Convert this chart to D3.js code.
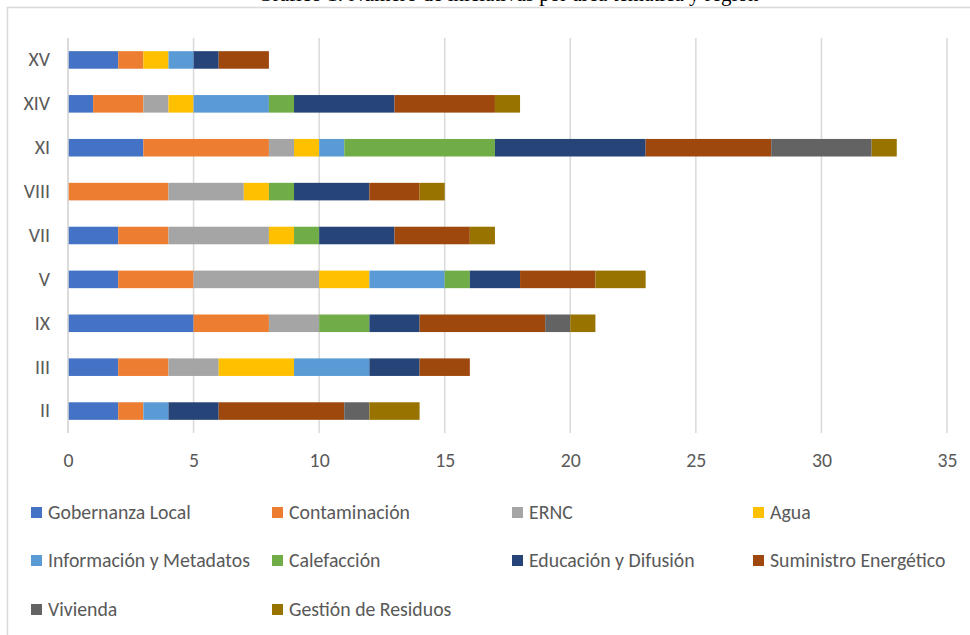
<!DOCTYPE html>
<html>
<head>
<meta charset="utf-8">
<script src="https://cdn.jsdelivr.net/npm/d3@7"></script>
<style>
  html, body { margin: 0; padding: 0; background: #fff; }
  svg { display: block; }
  text { font-family: Carlito, Lato, "Open Sans", sans-serif; }
</style>
</head>
<body>
<svg id="chart" width="970" height="635"></svg>
<script>
// Regions, top to bottom
const regions = ["XV", "XIV", "XI", "VIII", "VII", "V", "IX", "III", "II"];

// Thematic areas (stack order, left to right)
const areas = [
  "Gobernanza Local", "Contaminación", "ERNC", "Agua",
  "Información y Metadatos", "Calefacción", "Educación y Difusión",
  "Suministro Energético", "Vivienda", "Gestión de Residuos"
];

// Number of initiatives per area, one value per region (same order as regions)
const gobernanzaLocal      = [2, 1, 3, 0, 2, 2, 5, 2, 2];
const contaminacion        = [1, 2, 5, 4, 2, 3, 3, 2, 1];
const ernc                 = [0, 1, 1, 3, 4, 5, 2, 2, 0];
const agua                 = [1, 1, 1, 1, 1, 2, 0, 3, 0];
const informacionMetadatos = [1, 3, 1, 0, 0, 3, 0, 3, 1];
const calefaccion          = [0, 1, 6, 1, 1, 1, 2, 0, 0];
const educacionDifusion    = [1, 4, 6, 3, 3, 2, 2, 2, 2];
const suministroEnergetico = [2, 4, 5, 2, 3, 3, 5, 2, 5];
const vivienda             = [0, 0, 4, 0, 0, 0, 1, 0, 1];
const gestionResiduos      = [0, 1, 1, 1, 1, 2, 1, 0, 2];

const xTicks = [0, 5, 10, 15, 20, 25, 30, 35];

const seriesValues = [
  gobernanzaLocal, contaminacion, ernc, agua, informacionMetadatos,
  calefaccion, educacionDifusion, suministroEnergetico, vivienda, gestionResiduos
];

const colors = [
  "#4472C4", "#ED7D31", "#A5A5A5", "#FFC000", "#5B9BD5",
  "#70AD47", "#264478", "#9E480E", "#636363", "#997300"
];

// Table for d3.stack: one row per region
const table = regions.map((r, i) => {
  const row = { region: r };
  areas.forEach((a, j) => { row[a] = seriesValues[j][i]; });
  return row;
});

const svg = d3.select("#chart");
const W = 970, H = 635;
const labelSize = "19.8px";

// Caption above the chart frame (only its lower edge falls inside the page)
svg.append("text")
  .attr("x", 508).attr("y", 0.8)
  .attr("text-anchor", "middle")
  .style("font-family", "'Liberation Serif', serif")
  .style("font-size", "21px")
  .attr("fill", "#000")
  .text("Gráfico 1: Número de iniciativas por área temática y región");

// Chart frame
svg.append("rect")
  .attr("x", 7.5).attr("y", 7.5)
  .attr("width", W + 20).attr("height", H + 20)
  .attr("fill", "none")
  .attr("stroke", "#D9D9D9")
  .attr("stroke-width", 1.5);

const plot = { left: 68, right: 947, top: 38, bottom: 433 };

const x = d3.scaleLinear().domain([0, 35]).range([plot.left, plot.right]);
const y = d3.scaleBand().domain(regions).range([plot.top, plot.bottom])
  .paddingInner(0.6).paddingOuter(0.3);

// Vertical gridlines
svg.append("g")
  .selectAll("line")
  .data(xTicks)
  .join("line")
  .attr("x1", d => x(d)).attr("x2", d => x(d))
  .attr("y1", plot.top).attr("y2", plot.bottom)
  .attr("stroke", "#D9D9D9")
  .attr("stroke-width", 1.5);

// Stacked bars
const stacked = d3.stack().keys(areas)(table);
svg.append("g")
  .selectAll("g")
  .data(stacked)
  .join("g")
  .attr("fill", (d, i) => colors[i])
  .selectAll("rect")
  .data(d => d)
  .join("rect")
  .attr("x", d => x(d[0]))
  .attr("width", d => x(d[1]) - x(d[0]))
  .attr("y", d => y(d.data.region))
  .attr("height", y.bandwidth());

// Category axis (labels only)
const yAxis = svg.append("g")
  .attr("transform", `translate(${plot.left},0)`)
  .call(d3.axisLeft(y).tickSize(0).tickPadding(18));
yAxis.select(".domain").remove();
yAxis.selectAll("text")
  .attr("fill", "#595959")
  .style("font-size", labelSize);

// Left baseline
svg.append("line")
  .attr("x1", plot.left).attr("x2", plot.left)
  .attr("y1", plot.top).attr("y2", plot.bottom)
  .attr("stroke", "#D9D9D9")
  .attr("stroke-width", 1.5);

// Value axis labels
const xAxis = svg.append("g")
  .attr("transform", `translate(0,${plot.bottom})`)
  .call(d3.axisBottom(x).tickValues(xTicks).tickSize(0).tickPadding(20));
xAxis.select(".domain").remove();
xAxis.selectAll("text")
  .attr("fill", "#595959")
  .style("font-size", labelSize);

// Legend
const legendCols = [31, 272, 512, 753];
const legendRows = [512, 560, 609];
const legend = svg.append("g")
  .selectAll("g")
  .data(areas)
  .join("g")
  .attr("transform", (d, i) => `translate(${legendCols[i % 4]},${legendRows[Math.floor(i / 4)]})`);
legend.append("rect")
  .attr("x", 0).attr("y", -5)
  .attr("width", 11).attr("height", 11)
  .attr("fill", (d, i) => colors[i]);
legend.append("text")
  .attr("x", 17).attr("y", 0)
  .attr("dy", "0.35em")
  .attr("fill", "#595959")
  .style("font-size", labelSize)
  .text(d => d);
</script>
</body>
</html>
